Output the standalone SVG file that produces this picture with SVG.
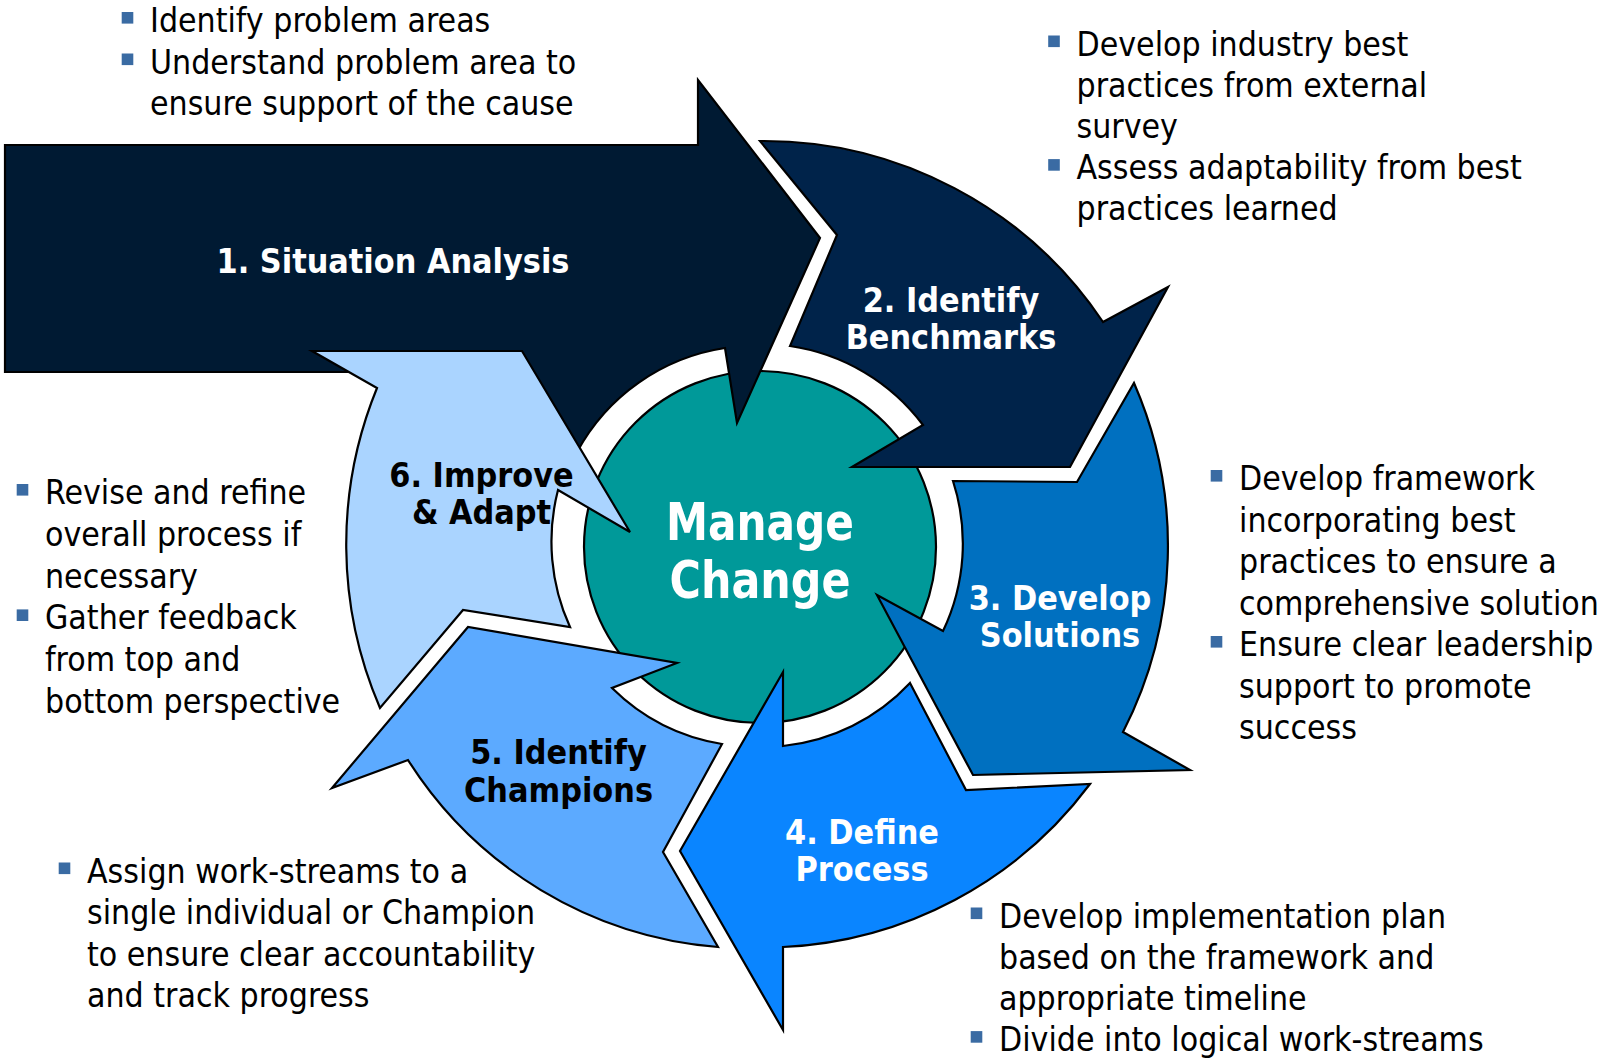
<svg xmlns="http://www.w3.org/2000/svg" width="1603" height="1059" viewBox="0 0 1603 1059">
<style>
.shape{stroke:#000;stroke-width:2.2;stroke-linejoin:miter}
.txt{font-family:"DejaVu Sans Condensed","DejaVu Sans",sans-serif;font-stretch:condensed;font-size:33.5px;fill:#000}
.lbl{font-family:"DejaVu Sans Condensed","DejaVu Sans",sans-serif;font-stretch:condensed;font-weight:bold;font-size:33.8px;text-anchor:middle}
.w{fill:#fff}
.k{fill:#000}
.big{font-family:"DejaVu Sans Condensed","DejaVu Sans",sans-serif;font-stretch:condensed;font-weight:bold;font-size:52px;text-anchor:middle;fill:#fff}
.bul{fill:#3a6ba3}
</style>
<rect width="1603" height="1059" fill="#fff"/>
<g id="center">
<circle cx="760" cy="547" r="176" fill="#009999" class="shape"/>
<text class="big" x="760" y="540" textLength="188" lengthAdjust="spacingAndGlyphs">Manage</text>
<text class="big" x="760" y="598" textLength="181" lengthAdjust="spacingAndGlyphs">Change</text>
</g>
<g id="connectors">
<g id="step1">
<path class="shape" fill="#001a33" d="M5,145 L698,145 L698,80 L820,238 L737,423 L725,348 A203,203 0 0,0 577,452 L515,372 L5,372 Z"/>
<text class="lbl w" x="393" y="273">1. Situation Analysis</text>
</g>
<g id="step2">
<path class="shape" fill="#00234a" d="M760,141 L837,235 L790,346 A203,203 0 0,1 923,425 L852,467 L1070,467 L1168,287 L1103,322 A408,408 0 0,0 760,141 Z"/>
<text class="lbl w" x="951" y="311.5">2. Identify</text>
<text class="lbl w" x="951" y="349.3">Benchmarks</text>
</g>
<g id="step3">
<path class="shape" fill="#0070c0" d="M953,481 L1077,482 L1134,383 A408,408 0 0,1 1123,732 L1190,770 L973,775 L877,595 L943,631 A203,203 0 0,0 953,481 Z"/>
<text class="lbl w" x="1060" y="610">3. Develop</text>
<text class="lbl w" x="1060" y="647.3">Solutions</text>
</g>
<g id="step4">
<path class="shape" fill="#0a85ff" d="M910,683 L966,790 L1090,784 A407,407 0 0,1 783,947 L783,1030 L680,851 L783,672 L783,746 A202,202 0 0,0 910,683 Z"/>
<text class="lbl w" x="862" y="844">4. Define</text>
<text class="lbl w" x="862" y="880.7">Process</text>
</g>
<g id="step5">
<path class="shape" fill="#5caaff" d="M722,744 L663,852 L718,947 A405,405 0 0,1 408,760 L332,788 L468,627 L677,663 L612,688 A203,203 0 0,0 722,744 Z"/>
<text class="lbl k" x="558.5" y="764">5. Identify</text>
<text class="lbl k" x="558.5" y="801.7">Champions</text>
</g>
<g id="step6">
<path class="shape" fill="#aad4ff" d="M312,351 L522,351 L630,532 L558,490 A206,206 0 0,0 570,627 L463,610 L380,708 A413,413 0 0,1 377,388 Z"/>
<text class="lbl k" x="481.5" y="486.7">6. Improve</text>
<text class="lbl k" x="481.5" y="524">&amp; Adapt</text>
</g>
</g>
<g id="notes-top-left">
<rect class="bul" x="121.7" y="12" width="11.6" height="11.6"/>
<rect class="bul" x="121.7" y="53.5" width="11.6" height="11.6"/>
<text class="txt" x="150" y="32">Identify problem areas</text>
<text class="txt" x="150" y="73.5">Understand problem area to</text>
<text class="txt" x="150" y="115">ensure support of the cause</text>
</g>
<g id="notes-top-right">
<rect class="bul" x="1048.2" y="35.5" width="11.6" height="11.6"/>
<rect class="bul" x="1048.2" y="159.1" width="11.6" height="11.6"/>
<text class="txt" x="1076.5" y="55.5">Develop industry best</text>
<text class="txt" x="1076.5" y="96.7">practices from external</text>
<text class="txt" x="1076.5" y="137.9">survey</text>
<text class="txt" x="1076.5" y="179.1">Assess adaptability from best</text>
<text class="txt" x="1076.5" y="220.3">practices learned</text>
</g>
<g id="notes-right">
<rect class="bul" x="1210.7" y="470" width="11.6" height="11.6"/>
<rect class="bul" x="1210.7" y="636" width="11.6" height="11.6"/>
<text class="txt" x="1239" y="490">Develop framework</text>
<text class="txt" x="1239" y="531.5">incorporating best</text>
<text class="txt" x="1239" y="573">practices to ensure a</text>
<text class="txt" x="1239" y="614.5">comprehensive solution</text>
<text class="txt" x="1239" y="656">Ensure clear leadership</text>
<text class="txt" x="1239" y="697.5">support to promote</text>
<text class="txt" x="1239" y="739">success</text>
</g>
<g id="notes-bottom-right">
<rect class="bul" x="970.7" y="907.5" width="11.6" height="11.6"/>
<rect class="bul" x="970.7" y="1031.1" width="11.6" height="11.6"/>
<text class="txt" x="999" y="927.5">Develop implementation plan</text>
<text class="txt" x="999" y="968.7">based on the framework and</text>
<text class="txt" x="999" y="1009.9">appropriate timeline</text>
<text class="txt" x="999" y="1051.1">Divide into logical work-streams</text>
</g>
<g id="notes-bottom-left">
<rect class="bul" x="58.7" y="862.5" width="11.6" height="11.6"/>
<text class="txt" x="87" y="882.5">Assign work-streams to a</text>
<text class="txt" x="87" y="924">single individual or Champion</text>
<text class="txt" x="87" y="965.5">to ensure clear accountability</text>
<text class="txt" x="87" y="1007">and track progress</text>
</g>
<g id="notes-left">
<rect class="bul" x="16.7" y="484" width="11.6" height="11.6"/>
<rect class="bul" x="16.7" y="609.4" width="11.6" height="11.6"/>
<text class="txt" x="45" y="504">Revise and refine</text>
<text class="txt" x="45" y="545.8">overall process if</text>
<text class="txt" x="45" y="587.6">necessary</text>
<text class="txt" x="45" y="629.4">Gather feedback</text>
<text class="txt" x="45" y="671.2">from top and</text>
<text class="txt" x="45" y="713">bottom perspective</text>
</g>
</svg>
